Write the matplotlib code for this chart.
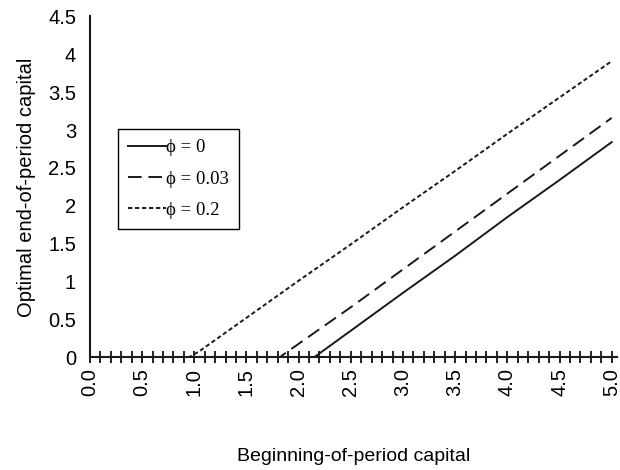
import matplotlib
matplotlib.use('Agg')
from matplotlib import pyplot as plt
from matplotlib.ticker import MultipleLocator, FormatStrFormatter

# phi = 0
x_phi0 = [0.0, 2.15, 2.5, 3.0, 3.5, 4.0, 4.5, 5.0]
y_phi0 = [0.0, 0.0, 0.35, 0.85, 1.34, 1.85, 2.34, 2.84]

# phi = 0.03
x_phi003 = [0.0, 1.82, 1.9, 2.5, 3.0, 3.5, 4.0, 4.5, 5.0]
y_phi003 = [0.0, 0.0, 0.08, 0.66, 1.16, 1.66, 2.16, 2.66, 3.16]

# phi = 0.2
x_phi02 = [0.0, 0.95, 1.05, 1.5, 2.0, 2.5, 3.0, 3.5, 4.0, 4.5, 5.0]
y_phi02 = [0.0, 0.0, 0.08, 0.52, 1.01, 1.49, 1.98, 2.46, 2.95, 3.43, 3.91]

labels = ['\u03d5 = 0', '\u03d5 = 0.03', '\u03d5 = 0.2']

plt.rcParams['font.family'] = ['Liberation Sans', 'DejaVu Sans']

fig = plt.figure(figsize=(6.2, 4.7), dpi=100)
ax = fig.add_axes([0.145, 0.24, 0.85, 0.725])

ax.plot(x_phi0, y_phi0, color='#1a1a1a', lw=1.4, label=labels[0])
ax.plot(x_phi003, y_phi003, color='#1a1a1a', lw=1.4, dashes=(7, 3.5), label=labels[1])
ax.plot(x_phi02, y_phi02, color='#1a1a1a', lw=1.4, dashes=(2.2, 1.4), label=labels[2])

ax.set_xlim(0, 5.05)
ax.set_ylim(0, 4.5)

ax.xaxis.set_major_locator(MultipleLocator(0.5))
ax.xaxis.set_minor_locator(MultipleLocator(0.1))
ax.xaxis.set_major_formatter(FormatStrFormatter('%.1f'))
ax.set_yticks([0, 0.5, 1, 1.5, 2, 2.5, 3, 3.5, 4, 4.5])
ax.set_yticklabels(['0', '0.5', '1', '1.5', '2', '2.5', '3', '3.5', '4', '4.5'])

ax.tick_params(axis='x', which='both', direction='inout', length=8, width=1.2,
               labelrotation=90, labelsize=14.5, pad=4)
ax.tick_params(axis='y', length=0, labelsize=14.5, pad=10)

for s in ['top', 'right']:
    ax.spines[s].set_visible(False)
for s in ['left', 'bottom']:
    ax.spines[s].set_linewidth(1.5)
    ax.spines[s].set_color('#1a1a1a')

ax.set_xlabel('Beginning-of-period capital', fontsize=14, labelpad=37)
ax.set_ylabel('Optimal end-of-period capital', fontsize=14.5, labelpad=9)

leg = ax.legend(loc='upper left', bbox_to_anchor=(0.053, 0.67), fancybox=False,
                edgecolor='black', framealpha=1, handlelength=2.0, handletextpad=0.0,
                labelspacing=0.75, borderpad=0.55, borderaxespad=0,
                prop={'family': ['Liberation Serif', 'DejaVu Serif'], 'size': 13.5})
leg.get_frame().set_linewidth(1.0)

plt.savefig('out.png', dpi=100)
